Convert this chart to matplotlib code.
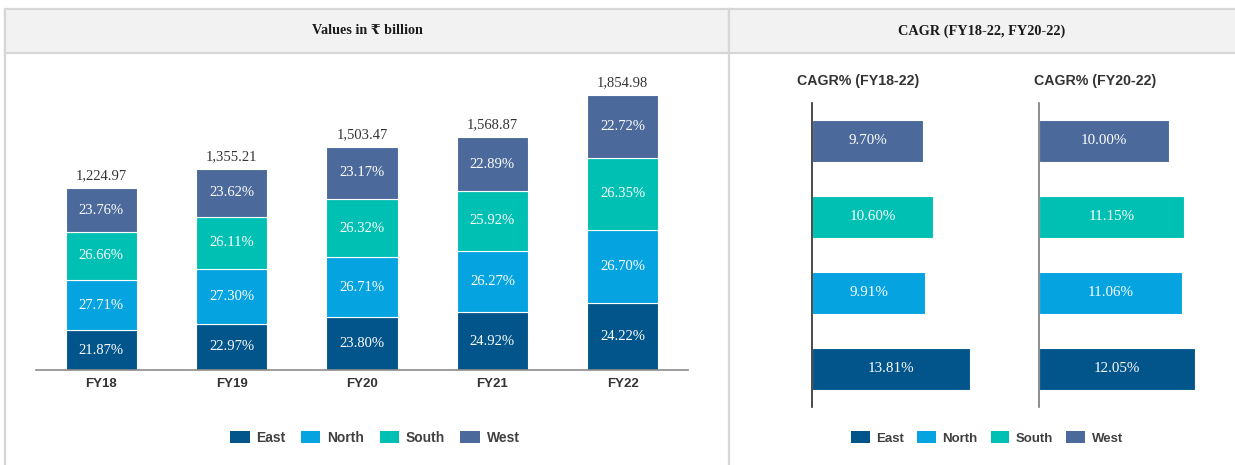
import matplotlib
matplotlib.use("Agg")
import matplotlib.pyplot as plt
from matplotlib.patches import Rectangle, Patch
from matplotlib.lines import Line2D
import numpy as np

# ---------------- data ----------------
years = ["FY18", "FY19", "FY20", "FY21", "FY22"]
totals = [1224.97, 1355.21, 1503.47, 1568.87, 1854.98]
regions = ["East", "North", "South", "West"]
share_east = [21.87, 22.97, 23.80, 24.92, 24.22]
share_north = [27.71, 27.30, 26.71, 26.27, 26.70]
share_south = [26.66, 26.11, 26.32, 25.92, 26.35]
share_west = [23.76, 23.62, 23.17, 22.89, 22.72]
cagr_18_22 = [13.81, 9.91, 10.60, 9.70]   # East, North, South, West
cagr_20_22 = [12.05, 11.06, 11.15, 10.00]

colors = ["#02558A", "#05A3E0", "#00C0B3", "#4B6A9B"]

W, H = 1235, 465
fig = plt.figure(figsize=(W / 100, H / 100), dpi=100)
fig.patch.set_facecolor("white")

def fr(x0, y0, x1, y1):
    """pixel box (top-left origin) -> figure fraction rect"""
    return [x0 / W, 1 - y1 / H, (x1 - x0) / W, (y1 - y0) / H]

serif = ["Liberation Serif", "DejaVu Serif", "DejaVu Sans"]
sans = ["Liberation Sans", "DejaVu Sans"]

# ---------------- header boxes & frame lines ----------------
for (x0, x1) in [(5, 729), (729, 1237)]:
    fig.patches.append(Rectangle((x0 / W, 1 - 53 / H), (x1 - x0) / W, 44 / H,
                                 transform=fig.transFigure, facecolor="#F2F2F2",
                                 edgecolor="#D6D6D6", lw=1.6, zorder=0))
for x in [5, 729]:
    fig.lines.append(Line2D([x / W, x / W], [0, 1 - 9 / H], transform=fig.transFigure,
                            color="#D6D6D6", lw=1.6, zorder=0))
fig.text(367 / W, 1 - 31 / H, "Values in ₹ billion", ha="center", va="center",
         fontsize=10.2, fontweight="bold", family=serif, color="#1a1a1a")
fig.text(982 / W, 1 - 31 / H, "CAGR (FY18-22, FY20-22)", ha="center", va="center",
         fontsize=10.3, fontweight="bold", family=serif, color="#1a1a1a")

# ---------------- left stacked bar chart ----------------
ax = fig.add_axes(fr(36, 60, 688, 370))
x = np.arange(len(years))
shares = [share_east, share_north, share_south, share_west]
bottom = np.zeros(len(years))
tot = np.array(totals)
for name, sh, c in zip(regions, shares, colors):
    vals = tot * np.array(sh) / 100
    ax.bar(x, vals, 0.545, bottom=bottom, color=c, edgecolor="white", linewidth=0.8, label=name)
    for xi, b, v, s in zip(x, bottom, vals, sh):
        ax.text(xi, b + v / 2, f"{s:.2f}%", ha="center", va="center", color="white",
                fontsize=10.5, family=serif)
    bottom += vals
for xi, t in zip(x, totals):
    ax.text(xi, t + 40, f"{t:,.2f}", ha="center", va="bottom", color="#333333",
            fontsize=10.5, family=serif)
ax.set_xlim(-0.5, 4.5)
ax.set_ylim(0, 310 / 0.1482)
for s in ["top", "right", "left"]:
    ax.spines[s].set_visible(False)
ax.spines["bottom"].set_color("#8C8C8C")
ax.spines["bottom"].set_linewidth(1.2)
ax.set_yticks([])
ax.set_xticks(x)
ax.set_xticklabels(years, fontsize=9.5, fontweight="bold", family=sans, color="#333333")
ax.tick_params(axis="x", length=0, pad=6)

handles = [Patch(facecolor=c, edgecolor="none") for c in colors]
fig.legend(handles, regions, loc="center", bbox_to_anchor=(375 / W, 1 - 438 / H),
           ncol=4, frameon=False, prop={"family": sans, "weight": "bold", "size": 10},
           handlelength=1.4, handleheight=1.0, columnspacing=1.1, handletextpad=0.5,
           labelcolor="#404040")

# ---------------- right CAGR charts ----------------
ypos = np.arange(len(regions))
for (x0, x1, vals, xmax, title, tcx, spc) in [
        (812, 1000, cagr_18_22, 188 / 11.44, "CAGR% (FY18-22)", 858, "#2b2b2b"),
        (1039, 1215, cagr_20_22, 176 / 12.97, "CAGR% (FY20-22)", 1095, "#7a7a7a")]:
    a = fig.add_axes(fr(x0, 103, x1, 407))
    a.barh(ypos, vals, 0.55, color=colors, edgecolor="white", linewidth=0.8)
    for yi, v in zip(ypos, vals):
        a.text(v / 2, yi, f"{v:.2f}%", ha="center", va="center", color="white",
               fontsize=10.8, family=serif)
    a.set_xlim(0, xmax)
    a.set_ylim(-0.5, 3.5)
    for s in ["top", "right", "bottom"]:
        a.spines[s].set_visible(False)
    a.spines["left"].set_color(spc)
    a.spines["left"].set_linewidth(1.2)
    a.set_xticks([])
    a.set_yticks([])
    fig.text(tcx / W, 1 - 81 / H, title, ha="center", va="center", fontsize=10.2,
             fontweight="bold", family=sans, color="#333333")

fig.legend(handles, regions, loc="center", bbox_to_anchor=(987 / W, 1 - 438 / H),
           ncol=4, frameon=False, prop={"family": sans, "weight": "bold", "size": 9.5},
           handlelength=1.4, handleheight=1.0, columnspacing=1.0, handletextpad=0.5,
           labelcolor="#404040")

fig.savefig("out.png", dpi=100)
